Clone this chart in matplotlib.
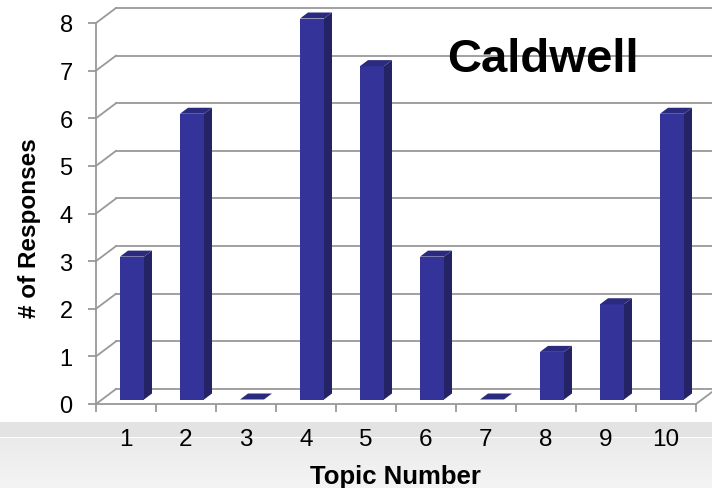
import numpy as np
import matplotlib
matplotlib.use("Agg")
import matplotlib.pyplot as plt
from matplotlib.patches import Polygon

plt.rcParams['font.family'] = ['Liberation Sans', 'DejaVu Sans']

# data
topics = [1, 2, 3, 4, 5, 6, 7, 8, 9, 10]
responses = [3, 6, 0, 8, 7, 3, 0, 1, 2, 6]
y_ticks = [0, 1, 2, 3, 4, 5, 6, 7, 8]
school = "Caldwell"

W, H = 712, 489
fig = plt.figure(figsize=(W / 100, H / 100), dpi=100)
fig.patch.set_facecolor('white')

# gray band at the bottom (gradient)
band = fig.add_axes([0, 0, 1, (H - 423) / H], zorder=0)
grad = np.concatenate([np.full(15, 0.89), [1.0], np.linspace(0.915, 0.955, 50)])
band.imshow(grad[:, None], cmap='gray', vmin=0, vmax=1, aspect='auto',
            extent=[0, 1, 0, 1], origin='upper')
band.axis('off')

# main axes = front plane of the 3D box
ax = fig.add_axes([96 / W, (H - 405) / H, 600 / W, 381 / H], zorder=1)
ax.set_facecolor('none')
ax.set_xlim(0.5, 10.5)
ax.set_ylim(0, 8)

DX = 20 / 60       # depth offset in x units
DY = 15 / 47.625   # depth offset in y units
grid_c = '#999999'
lw = 1.3

x0, x1 = 0.5, 10.5
# side wall diagonals + back wall gridlines
for v in y_ticks:
    ax.plot([x0, x0 + DX], [v, v + DY], color=grid_c, lw=lw, clip_on=False, zorder=1)
    ax.plot([x0 + DX, x1 + DX + 0.5], [v + DY, v + DY], color=grid_c, lw=lw,
            clip_on=False, zorder=1)
# floor right edge
ax.plot([x1, x1 + DX], [0, DY], color=grid_c, lw=lw, clip_on=False, zorder=1)

# bars
front_c, side_c, top_c = '#333399', '#232366', '#2a2a7e'
hw = 0.2
f0, f1 = 0.3, 0.7   # bar depth fraction (front, back)
for t, v in zip(topics, responses):
    xl = t - hw + f0 * DX
    xr = t + hw + f0 * DX
    yb = f0 * DY
    ddx = (f1 - f0) * DX
    ddy = (f1 - f0) * DY
    top = [(xl, v + yb), (xr, v + yb), (xr + ddx, v + yb + ddy), (xl + ddx, v + yb + ddy)]
    if v > 0:
        ax.add_patch(Polygon([(xl, yb), (xr, yb), (xr, v + yb), (xl, v + yb)],
                             closed=True, fc=front_c, ec='none', zorder=3, clip_on=False))
        ax.add_patch(Polygon([(xr, yb), (xr + ddx, yb + ddy), (xr + ddx, v + yb + ddy),
                              (xr, v + yb)], closed=True, fc=side_c, ec='none',
                             zorder=3, clip_on=False))
    ax.add_patch(Polygon(top, closed=True, fc=top_c, ec='none', zorder=3, clip_on=False))

# spines and ticks
for s in ['top', 'right']:
    ax.spines[s].set_visible(False)
for s in ['left', 'bottom']:
    ax.spines[s].set_color(grid_c)
    ax.spines[s].set_linewidth(lw)

ax.set_yticks(y_ticks)
ax.set_yticklabels([str(v) for v in y_ticks])
ax.tick_params(axis='y', direction='out', length=5.8, width=lw, color=grid_c,
               pad=11, labelsize=17)
ax.set_xticks(topics)
ax.set_xticklabels([str(t) for t in topics])
ax.set_xticks(np.arange(0.5, 11, 1), minor=True)
ax.tick_params(axis='x', which='major', length=0, pad=17, labelsize=17.5)
ax.tick_params(axis='x', which='minor', direction='out', length=5.8, width=lw,
               color=grid_c)

fig.text(447 / W, 1 - 72 / H, school, fontsize=34, fontweight='bold',
         ha='left', va='baseline')
fig.text(30 / W, 1 - 228 / H, '# of Responses', fontsize=17.5, fontweight='bold',
         rotation=90, ha='center', va='center')
fig.text(395 / W, 1 - 484 / H, 'Topic Number', fontsize=18.5, fontweight='bold',
         ha='center', va='baseline')

fig.savefig('out.png', dpi=100)
